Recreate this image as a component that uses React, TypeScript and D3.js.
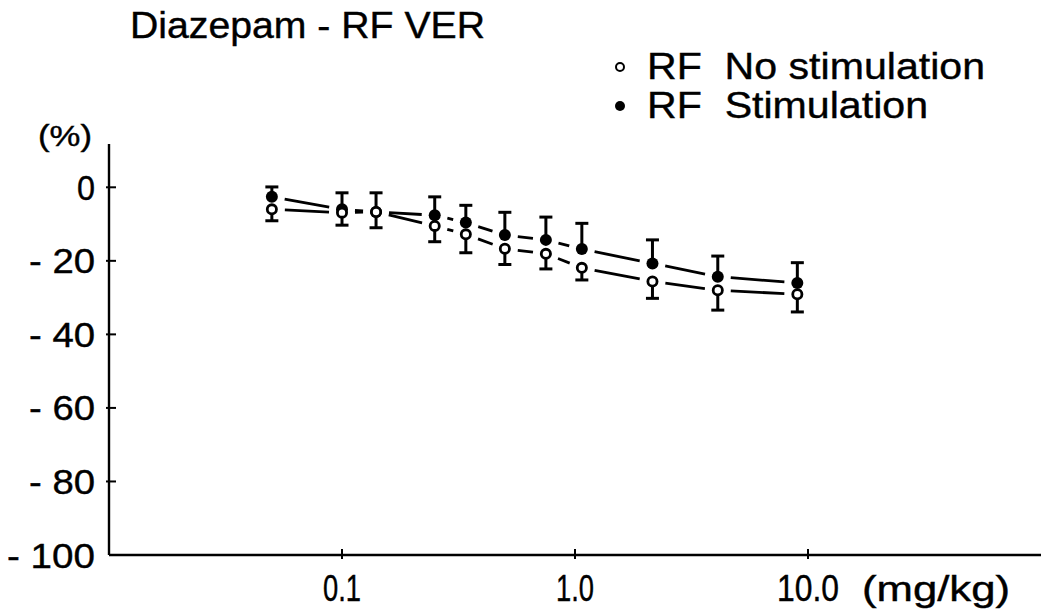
import React from "react";
import * as d3 from "d3";

const doses = [0.05, 0.1, 0.14, 0.25, 0.34, 0.5, 0.75, 1.07, 2.15, 4.1, 9.0];
const noStim = [-6.0, -6.9, -6.7, -10.5, -12.8, -16.7, -18.1, -21.9, -25.6, -28.0, -29.1];
const noStimErr = [3.1, 3.4, 4.3, 4.3, 5.0, 4.3, 4.1, 3.3, 4.6, 5.4, 4.8];
const stim = [-2.6, -6.0, -6.7, -7.6, -9.6, -13.0, -14.3, -16.8, -20.7, -24.3, -26.0];
const stimErr = [2.7, 4.5, 5.2, 5.0, 4.7, 6.2, 6.2, 7.0, 6.4, 5.6, 5.5];
const yTicks = [0, -20, -40, -60, -80, -100];
const yTickLabels = ["0", "- 20", "- 40", "- 60", "- 80", "- 100"];
const xTicks = [0.1, 1, 10];
const xTickLabels = ["0.1", "1.0", "10.0"];

const W = 1050;
const H = 609;
const FONT = "'Liberation Sans', Arial, sans-serif";
const TXT = { fontFamily: FONT, fill: "#000", stroke: "#000", strokeWidth: 0.4, style: { whiteSpace: "pre" as const } };

export default function App() {
  const x = d3.scaleLog().domain([0.01, 100]).range([109, 1041]);
  const y = d3.scaleLinear().domain([-100, 0]).range([555, 187.3]);
  const axisY = y(-100);
  const gap = 13;

  const segs = (vals: number[]) => {
    const out: { x1: number; y1: number; x2: number; y2: number }[] = [];
    for (let i = 0; i < vals.length - 1; i++) {
      const ax = x(doses[i]), ay = y(vals[i]);
      const bx = x(doses[i + 1]), by = y(vals[i + 1]);
      const dx = bx - ax, dy = by - ay;
      const len = Math.hypot(dx, dy);
      if (len < 2 * gap + 3) continue;
      const ux = dx / len, uy = dy / len;
      out.push({ x1: ax + ux * gap, y1: ay + uy * gap, x2: bx - ux * gap, y2: by - uy * gap });
    }
    return out;
  };

  const capHalf = 6.5;
  const sw = 3;

  return (
    <svg width={W} height={H} style={{ position: "absolute", left: 0, top: 0, background: "#fff" }}>
      <rect x={0} y={0} width={W} height={H} fill="#fff" />
      {/* title */}
      <text x={130} y={38} fontSize={36} textLength={355} lengthAdjust="spacingAndGlyphs" {...TXT}>
        Diazepam - RF VER
      </text>
      {/* legend */}
      <circle cx={620} cy={67} r={4} fill="#fff" stroke="#000" strokeWidth={2} />
      <text x={647} y={79} fontSize={37} textLength={338} lengthAdjust="spacingAndGlyphs" {...TXT}>
        {"RF  No stimulation"}
      </text>
      <circle cx={620} cy={106} r={5} fill="#000" />
      <text x={647} y={118} fontSize={37} textLength={281} lengthAdjust="spacingAndGlyphs" {...TXT}>
        {"RF  Stimulation"}
      </text>
      {/* (%) */}
      <text x={38} y={146} fontSize={30} textLength={54} lengthAdjust="spacingAndGlyphs" {...TXT}>
        (%)
      </text>
      {/* y axis */}
      <line x1={x(0.01)} x2={x(0.01)} y1={144} y2={axisY} stroke="#000" strokeWidth={2.4} />
      {yTicks.map((t, i) => (
        <g key={"yt" + i}>
          {t !== -100 && <line x1={x(0.01) - 3} x2={x(0.01) + 7} y1={y(t)} y2={y(t)} stroke="#000" strokeWidth={2} />}
          <text x={95} y={y(t) + 12.5} textAnchor="end" fontSize={35}
            textLength={t === 0 ? 18 : t === -100 ? 88 : 66} lengthAdjust="spacingAndGlyphs" {...TXT}>
            {yTickLabels[i]}
          </text>
        </g>
      ))}
      {/* x axis */}
      <line x1={x(0.01)} x2={x(100)} y1={axisY} y2={axisY} stroke="#000" strokeWidth={2.4} />
      {xTicks.map((t, i) => (
        <g key={"xt" + i}>
          <line x1={x(t)} x2={x(t)} y1={axisY - 6} y2={axisY + 4} stroke="#000" strokeWidth={2} />
          <text x={x(t)} y={601} textAnchor="middle" fontSize={36}
            textLength={t === 10 ? 62 : 38} lengthAdjust="spacingAndGlyphs" {...TXT}>
            {xTickLabels[i]}
          </text>
        </g>
      ))}
      <text x={862} y={601} fontSize={35} textLength={148} lengthAdjust="spacingAndGlyphs" {...TXT}>
        (mg/kg)
      </text>
      {/* connecting lines */}
      {segs(stim).map((s, i) => (
        <line key={"ls" + i} {...s} stroke="#000" strokeWidth={2.8} />
      ))}
      {segs(noStim).map((s, i) => (
        <line key={"ln" + i} {...s} stroke="#000" strokeWidth={2.8} />
      ))}
      {/* error bars: stimulation upward */}
      {doses.map((d, i) => (
        <g key={"es" + i}>
          <line x1={x(d)} x2={x(d)} y1={y(stim[i])} y2={y(stim[i] + stimErr[i])} stroke="#000" strokeWidth={sw} />
          <line x1={x(d) - capHalf} x2={x(d) + capHalf} y1={y(stim[i] + stimErr[i])} y2={y(stim[i] + stimErr[i])} stroke="#000" strokeWidth={sw} />
        </g>
      ))}
      {/* error bars: no stimulation downward */}
      {doses.map((d, i) => (
        <g key={"en" + i}>
          <line x1={x(d)} x2={x(d)} y1={y(noStim[i])} y2={y(noStim[i] - noStimErr[i])} stroke="#000" strokeWidth={sw} />
          <line x1={x(d) - capHalf} x2={x(d) + capHalf} y1={y(noStim[i] - noStimErr[i])} y2={y(noStim[i] - noStimErr[i])} stroke="#000" strokeWidth={sw} />
        </g>
      ))}
      {/* markers */}
      {doses.map((d, i) => (
        <circle key={"ms" + i} cx={x(d)} cy={y(stim[i])} r={6} fill="#000" />
      ))}
      {doses.map((d, i) => (
        <circle key={"mn" + i} cx={x(d)} cy={y(noStim[i])} r={4.6} fill="#fff" stroke="#000" strokeWidth={2.8} />
      ))}
    </svg>
  );
}
